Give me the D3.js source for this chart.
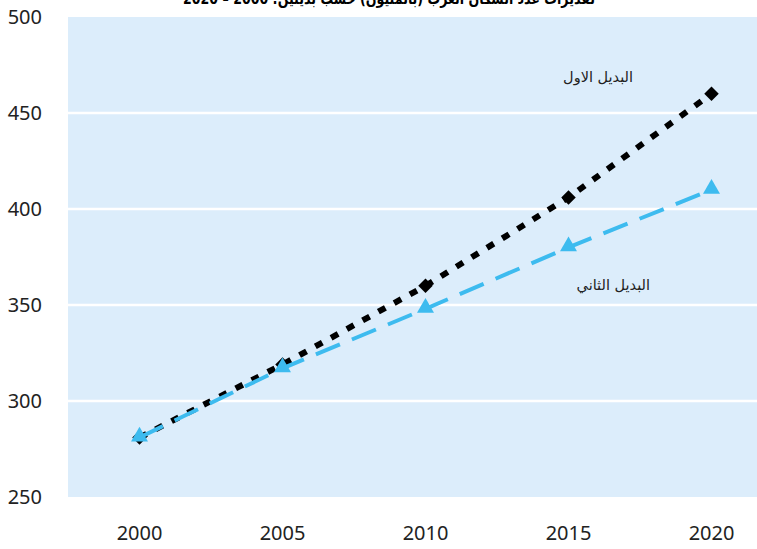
<!DOCTYPE html>
<html>
<head>
    <meta charset="utf-8">
    <title>Arab population estimates</title>
    <script src="https://d3js.org/d3.v7.min.js"></script>
    <style>
        body { margin: 0; background: #fff; }
        .tick text { font: 20px "Noto Sans", "Open Sans", sans-serif; fill: #222; }
        .label { font: 14.5px "DejaVu Sans", sans-serif; fill: #222; }
        .title { font: bold 16px "DejaVu Sans", sans-serif; fill: #000; }
    </style>
</head>
<body>
    <svg id="chart" width="757" height="549"></svg>
    <script>
        var years = ["2000", "2005", "2010", "2015", "2020"];
        var firstAlt = [281, 319, 360, 406, 460];   // البديل الاول
        var secondAlt = [281, 317, 348, 380, 410];  // البديل الثاني
        var yTicks = [250, 300, 350, 400, 450, 500];

        var svg = d3.select("#chart");

        var x = d3.scaleBand().domain(years).range([68, 783]);
        var y = d3.scaleLinear().domain([250, 500]).range([497, 17]);

        // plot background
        svg.append("rect")
            .attr("x", 68).attr("y", y(500))
            .attr("width", 715).attr("height", y(250) - y(500))
            .attr("fill", "#dcedfb");

        // gridlines
        svg.selectAll(".grid")
            .data(yTicks.filter(function(d) { return d > 250 && d < 500; }))
            .enter().append("line")
            .attr("x1", 68).attr("x2", 783)
            .attr("y1", function(d) { return y(d); })
            .attr("y2", function(d) { return y(d); })
            .attr("stroke", "#fff").attr("stroke-width", 2.5);

        // axes, no lines, only labels
        var yAxis = svg.append("g")
            .attr("transform", "translate(44,0)")
            .call(d3.axisLeft(y).tickValues(yTicks).tickSize(0).tickPadding(2));
        yAxis.select(".domain").remove();

        var xAxis = svg.append("g")
            .attr("transform", "translate(0,526)")
            .call(d3.axisBottom(x).tickSize(0).tickPadding(0));
        xAxis.select(".domain").remove();

        // title, mostly cut off at the top like the source
        svg.append("text")
            .attr("class", "title")
            .attr("x", 595).attr("y", 4)
            .attr("text-anchor", "start")
            .attr("direction", "rtl")
            .attr("textLength", 412)
            .attr("lengthAdjust", "spacingAndGlyphs")
            .text("تقديرات عدد السكان العرب (بالمليون) حسب بديلين: 2000 – 2020");

        var cx = function(d, i) { return x(years[i]) + x.bandwidth() / 2; };
        var line = d3.line()
            .x(function(d, i) { return cx(d, i); })
            .y(function(d) { return y(d); });

        // first alternative: black dotted with diamonds
        svg.append("path")
            .datum(firstAlt)
            .attr("d", line)
            .attr("fill", "none")
            .attr("stroke", "#000")
            .attr("stroke-width", 6)
            .attr("stroke-dasharray", "8,10");

        svg.selectAll(".diamond")
            .data(firstAlt)
            .enter().append("path")
            .attr("class", "diamond")
            .attr("d", d3.symbol().type(d3.symbolSquare).size(105))
            .attr("transform", function(d, i) { return "translate(" + cx(d, i) + "," + y(d) + ") rotate(45)"; })
            .attr("fill", "#000");

        // second alternative: blue dashed with triangles
        svg.append("path")
            .datum(secondAlt)
            .attr("d", line)
            .attr("fill", "none")
            .attr("stroke", "#3dbbef")
            .attr("stroke-width", 4)
            .attr("stroke-dasharray", "26,13");

        svg.selectAll(".tri")
            .data(secondAlt)
            .enter().append("path")
            .attr("class", "tri")
            .attr("d", d3.symbol().type(d3.symbolTriangle).size(125))
            .attr("transform", function(d, i) { return "translate(" + cx(d, i) + "," + (y(d) - 1) + ")"; })
            .attr("fill", "#3dbbef");

        // series labels
        svg.append("text").attr("class", "label")
            .attr("x", 633).attr("y", 82)
            .attr("text-anchor", "start").attr("direction", "rtl")
            .text("البديل الاول");
        svg.append("text").attr("class", "label")
            .attr("x", 650).attr("y", 290)
            .attr("text-anchor", "start").attr("direction", "rtl")
            .text("البديل الثاني");
    </script>
</body>
</html>
